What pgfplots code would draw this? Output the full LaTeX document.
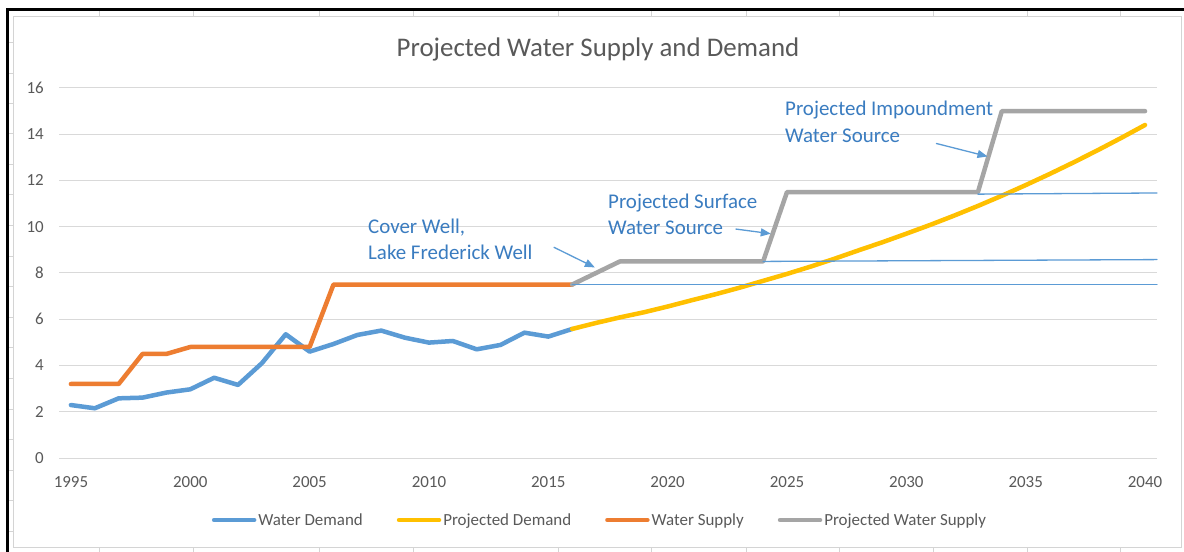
\documentclass[border=0pt]{standalone}
\usepackage{fontspec}
\setmainfont{Carlito}
\usepackage{pgfplots}
\pgfplotsset{compat=1.18}
\usetikzlibrary{arrows.meta}
\definecolor{cDem}{HTML}{5B9BD5}
\definecolor{cPDem}{HTML}{FFC000}
\definecolor{cSup}{HTML}{ED7D31}
\definecolor{cPSup}{HTML}{A5A5A5}
\definecolor{cGrid}{HTML}{D9D9D9}
\definecolor{cTick}{HTML}{595959}
\definecolor{cNote}{HTML}{3A7CC0}
\definecolor{cCell}{HTML}{D4D4D4}
\begin{document}
\begin{tikzpicture}
\fill[white] (0,0) rectangle (1184bp,552bp);
% spreadsheet cell marks in the margin
\foreach \xx in {99,193,319,413,558,651,746,839,933,1027,1120}{
  \draw[cCell, line width=0.8bp] (\xx bp,535bp) -- (\xx bp,542bp);
  \draw[cCell, line width=0.8bp] (\xx bp,0bp) -- (\xx bp,4bp);
}
\foreach \yy in {42,73,103,133,164,194,225,256,286,317,347,378,409,439,470,500,531}{
  \draw[cCell, line width=0.8bp] (7bp,552bp-\yy bp) -- (13bp,552bp-\yy bp);
}
% chart area border
\draw[cCell, line width=1bp] (13bp,4bp) rectangle (1181bp,535bp);
% black screenshot frame
\draw[black, line width=3bp] (7bp,0bp) -- (7bp,542bp) -- (1184bp,542bp);

\begin{axis}[
  at={(59bp,94bp)}, anchor=south west,
  scale only axis, width=1098bp, height=370bp,
  xmin=1994.5, xmax=2040.5, ymin=0, ymax=16,
  xtick={1995,2000,...,2040},
  ytick={0,2,...,16},
  ymajorgrids, grid style={cGrid, line width=1bp},
  axis line style={draw=none},
  major tick length=0pt,
  tick label style={font=\fontsize{17}{20}\selectfont, text=cTick},
  /pgf/number format/assume math mode=true,
  /pgf/number format/set thousands separator={},
  xticklabel style={anchor=base, inner sep=0pt, yshift=-29bp},
  yticklabel style={anchor=base east, inner sep=0pt, xshift=-15bp, yshift=-5.5bp},
  clip=false,
  every axis plot/.append style={line cap=round, line join=round},
  legend columns=4,
  legend style={at={(0.4927,-0.1676)}, anchor=center, draw=none, fill=none,
    font=\fontsize{17}{20}\selectfont, text=cTick,
    /tikz/every even column/.append style={column sep=32bp},
    nodes={inner sep=2bp}},
  legend image code/.code={\draw[#1] (0bp,0bp) -- (40bp,0bp);},
]
\addplot[cDem, line width=4.5bp] coordinates {
(1995,2.29) (1996,2.15) (1997,2.58) (1998,2.61) (1999,2.83) (2000,2.97)
(2001,3.47) (2002,3.16) (2003,4.10) (2004,5.35) (2005,4.60) (2006,4.93)
(2007,5.32) (2008,5.51) (2009,5.20) (2010,4.99) (2011,5.06) (2012,4.70)
(2013,4.89) (2014,5.42) (2015,5.25) (2016,5.58)};
\addlegendentry{Water Demand}
\addplot[cPDem, line width=4.5bp] coordinates {
(2016,5.58) (2017,5.84) (2018,6.08) (2019,6.30) (2020,6.55) (2021,6.82)
(2022,7.08) (2023,7.36) (2024,7.66) (2025,7.96) (2026,8.28) (2027,8.62)
(2028,8.98) (2029,9.33) (2030,9.70) (2031,10.08) (2032,10.48) (2033,10.90)
(2034,11.34) (2035,11.80) (2036,12.28) (2037,12.78) (2038,13.30) (2039,13.84)
(2040,14.40)};
\addlegendentry{Projected Demand}
\addplot[cSup, line width=4.5bp] coordinates {
(1995,3.2) (1996,3.2) (1997,3.2) (1998,4.5) (1999,4.5) (2000,4.8)
(2001,4.8) (2002,4.8) (2003,4.8) (2004,4.8) (2005,4.8) (2006,7.5)
(2007,7.5) (2008,7.5) (2009,7.5) (2010,7.5) (2011,7.5) (2012,7.5)
(2013,7.5) (2014,7.5) (2015,7.5) (2016,7.5)};
\addlegendentry{Water Supply}
\addplot[cPSup, line width=4.5bp] coordinates {
(2016,7.5) (2017,8.0) (2018,8.5) (2019,8.5) (2020,8.5) (2021,8.5)
(2022,8.5) (2023,8.5) (2024,8.5) (2025,11.5) (2026,11.5) (2027,11.5)
(2028,11.5) (2029,11.5) (2030,11.5) (2031,11.5) (2032,11.5) (2033,11.5)
(2034,15) (2035,15) (2036,15) (2037,15) (2038,15) (2039,15) (2040,15)};
\addlegendentry{Projected Water Supply}
% annotation reference lines
\addplot[cDem, line width=1.3bp, forget plot] coordinates {(2016,7.5) (2040.5,7.5)};
\addplot[cDem, line width=1.3bp, forget plot] coordinates {(2024,8.5) (2040.5,8.58)};
\addplot[cDem, line width=1.3bp, forget plot] coordinates {(2033,11.41) (2040.5,11.46)};
% annotation arrows
\addplot[cDem, line width=1.3bp, forget plot, -{Triangle[length=10bp,width=8bp]}] coordinates {(2015.24,9.11) (2016.95,8.24)};
\addplot[cDem, line width=1.3bp, forget plot, -{Triangle[length=10bp,width=8bp]}] coordinates {(2022.86,9.90) (2024.32,9.70)};
\addplot[cDem, line width=1.3bp, forget plot, -{Triangle[length=10bp,width=8bp]}] coordinates {(2031.26,13.60) (2033.40,13.04)};
\end{axis}

% title
\node[anchor=base, text=cTick, font=\fontsize{27}{32}\selectfont, inner sep=0pt] at (598bp,495.3bp) {Projected Water Supply and Demand};
% annotation texts
\begin{scope}[every node/.style={anchor=base west, inner sep=0pt, text=cNote, font=\fontsize{21}{25}\selectfont}]
\node at (368bp,552bp-233.3bp) {Cover Well,};
\node at (368bp,552bp-259.3bp) {Lake Frederick Well};
\node at (608bp,552bp-208.3bp) {Projected Surface};
\node at (608bp,552bp-235bp) {Water Source};
\node at (785bp,552bp-115.7bp) {Projected Impoundment};
\node at (785bp,552bp-142.7bp) {Water Source};
\end{scope}
\pgfresetboundingbox
\path[use as bounding box] (0,0) rectangle (1184bp,552bp);
\end{tikzpicture}
\end{document}
